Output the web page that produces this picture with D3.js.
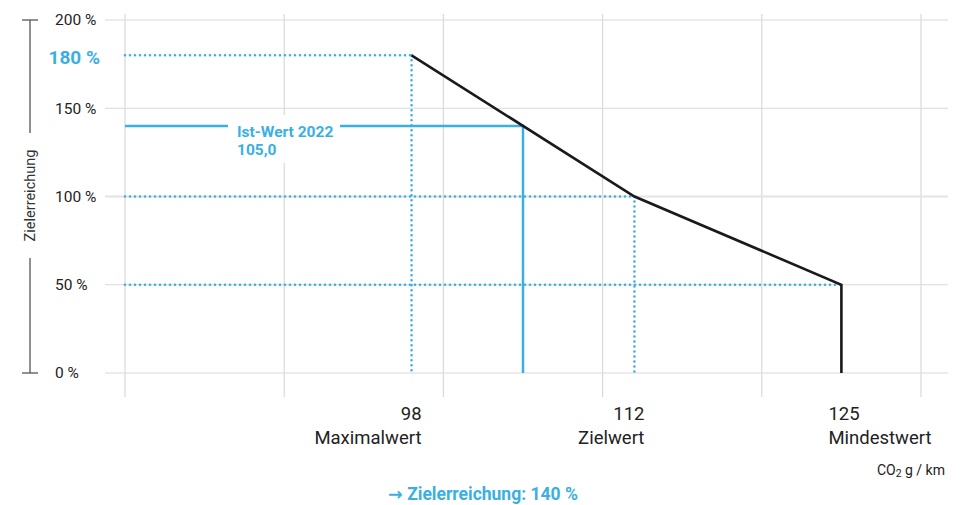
<!DOCTYPE html>
<html>
<head>
<meta charset="utf-8">
<script src="https://cdn.jsdelivr.net/npm/d3@7"></script>
<style>
  body { margin: 0; background: #fff; }
  text { font-family: Roboto, "Noto Sans", sans-serif; }
</style>
</head>
<body>
<div class="canvas"></div>
<script>
// data
const yTicks = [0, 50, 100, 150, 200];
const xGrid = [80, 90, 100, 110, 120, 130];
const curve = [
  { co2: 98, pct: 180 },
  { co2: 112, pct: 100 },
  { co2: 125, pct: 50 },
  { co2: 125, pct: 0 }
];
const markers = [
  { co2: 98, label: 'Maximalwert' },
  { co2: 112, label: 'Zielwert' },
  { co2: 125, label: 'Mindestwert' }
];
const istWert = { co2: 105, pct: 140, label: 'Ist-Wert 2022', value: '105,0' };
const maxPct = 180;

const blue = '#3aafe4';
const dims = { width: 967, height: 505 };

const svg = d3.select('.canvas')
  .append('svg')
  .attr('width', dims.width)
  .attr('height', dims.height);

const x = d3.scaleLinear().domain([80, 130]).range([125, 921]);
const y = d3.scaleLinear().domain([0, 200]).range([373, 20]);

// grid
svg.append('g').selectAll('line')
  .data(xGrid)
  .enter().append('line')
    .attr('x1', d => x(d)).attr('x2', d => x(d))
    .attr('y1', 14).attr('y2', 397)
    .attr('stroke', '#d9d9d9').attr('stroke-width', 1.2);

svg.append('g').selectAll('line')
  .data(yTicks)
  .enter().append('line')
    .attr('x1', 105).attr('x2', 948)
    .attr('y1', d => y(d)).attr('y2', d => y(d))
    .attr('stroke', d => d === 100 ? '#e3e3e3' : '#d9d9d9')
    .attr('stroke-width', d => d === 100 ? 2 : 1.2);

// y tick labels
svg.append('g').selectAll('text')
  .data(yTicks)
  .enter().append('text')
    .attr('x', 55)
    .attr('y', d => y(d))
    .attr('dy', '0.35em')
    .attr('font-size', 15.5)
    .attr('fill', '#222')
    .text(d => d + ' %');

svg.append('text')
  .attr('x', 100).attr('y', y(maxPct) + 2)
  .attr('dy', '0.35em')
  .attr('text-anchor', 'end')
  .attr('font-size', 19).attr('font-weight', 700)
  .attr('fill', blue)
  .text(maxPct + ' %');

// y axis bracket
const axisG = svg.append('g').attr('stroke', '#555').attr('stroke-width', 1.3);
axisG.append('line').attr('x1', 30).attr('x2', 30).attr('y1', y(200)).attr('y2', 133);
axisG.append('line').attr('x1', 30).attr('x2', 30).attr('y1', 258).attr('y2', y(0));
axisG.append('line').attr('x1', 22).attr('x2', 38).attr('y1', y(200)).attr('y2', y(200));
axisG.append('line').attr('x1', 22).attr('x2', 38).attr('y1', y(0)).attr('y2', y(0));

svg.append('text')
  .attr('transform', `translate(30, ${(133 + 258) / 2}) rotate(-90)`)
  .attr('text-anchor', 'middle')
  .attr('dy', '0.35em')
  .attr('font-size', 14.5)
  .attr('fill', '#333')
  .text('Zielerreichung');

// dotted guides
const dotted = svg.append('g')
  .attr('stroke', blue)
  .attr('stroke-width', 2.6)
  .attr('stroke-linecap', 'round')
  .attr('stroke-dasharray', '0 5')
  .attr('fill', 'none');

curve.filter(d => d.pct > 0).forEach(d => {
  dotted.append('line')
    .attr('x1', x(80)).attr('x2', x(d.co2))
    .attr('y1', y(d.pct)).attr('y2', y(d.pct));
  if (d.co2 !== 125) {
    dotted.append('line')
      .attr('x1', x(d.co2)).attr('x2', x(d.co2))
      .attr('y1', y(d.pct)).attr('y2', y(0));
  }
});

// Ist-Wert lines
svg.append('path')
  .attr('d', `M${x(80)},${y(istWert.pct)}H${x(istWert.co2)}V${y(0)}`)
  .attr('fill', 'none')
  .attr('stroke', blue)
  .attr('stroke-width', 2.5);

// main curve
const line = d3.line().x(d => x(d.co2)).y(d => y(d.pct));
svg.append('path')
  .datum(curve)
  .attr('d', line)
  .attr('fill', 'none')
  .attr('stroke', '#1a1a1a')
  .attr('stroke-width', 2.6);

// Ist-Wert label
const lbl = svg.append('g');
lbl.append('rect')
  .attr('x', 228).attr('y', 115)
  .attr('width', 112).attr('height', 48)
  .attr('fill', '#fff');
lbl.append('text')
  .attr('x', 237).attr('y', 137)
  .attr('font-size', 15.5).attr('font-weight', 700)
  .attr('fill', blue)
  .text(istWert.label);
lbl.append('text')
  .attr('x', 237).attr('y', 155)
  .attr('font-size', 15.5).attr('font-weight', 700)
  .attr('fill', blue)
  .text(istWert.value);

// x labels
const xl = svg.append('g').selectAll('g')
  .data(markers)
  .enter().append('g')
    .attr('transform', (d, i) => i < 2
      ? `translate(${x(d.co2) + 10}, 0)`
      : `translate(${x(d.co2) - 13}, 0)`)
    .attr('text-anchor', (d, i) => i < 2 ? 'end' : 'start')
    .attr('fill', '#222')
    .attr('font-size', 18.5);

xl.append('text').attr('y', 420).text(d => d.co2);
xl.append('text').attr('y', 444).text(d => d.label);

// unit
const unit = svg.append('text')
  .attr('x', 945).attr('y', 475)
  .attr('text-anchor', 'end')
  .attr('font-size', 14)
  .attr('fill', '#222');
unit.append('tspan').text('CO');
unit.append('tspan').attr('font-size', 10.5).attr('dy', 2).text('2');
unit.append('tspan').attr('dy', -2).text(' g / km');

// result
const res = svg.append('text')
  .attr('x', 483).attr('y', 500)
  .attr('text-anchor', 'middle')
  .attr('font-size', 17.5).attr('font-weight', 700)
  .attr('fill', blue);
res.append('tspan').attr('font-family', 'DejaVu Sans').text('\u2192');
res.append('tspan').text(' Zielerreichung: 140 %');
</script>
</body>
</html>
